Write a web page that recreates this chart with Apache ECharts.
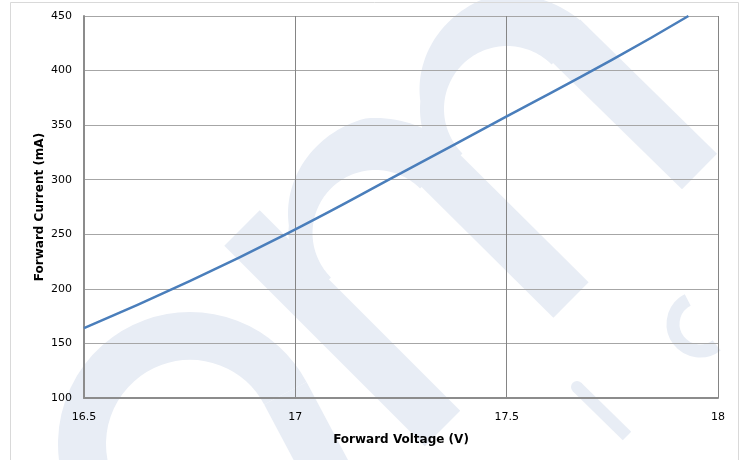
<!DOCTYPE html>
<html><head><meta charset="utf-8">
<script src="https://cdn.jsdelivr.net/npm/echarts/dist/echarts.min.js"></script>
<style>html,body{margin:0;padding:0;background:#fff}#c{width:746px;height:460px}</style>
</head><body><div id="c"></div>
<script>
// ---- data ----
const voltage = [16.5, 16.75, 17.0, 17.25, 17.5, 17.75, 17.93];
const current = [164, 207, 254.5, 306, 358, 410, 450];
const xTicks = [16.5, 17, 17.5, 18];
const yTicks = [100, 150, 200, 250, 300, 350, 400, 450];
const xTitle = 'Forward Voltage (V)';
const yTitle = 'Forward Current (mA)';

// ---- decorative watermark (ams logo) ----
const WM = '#e8edf5';
const D = Math.PI / 180;
function arcEl(cx, cy, r, a0, a1, w) {
  return { type: 'arc', z: -10, silent: true,
    shape: { cx: cx, cy: cy, r: r, startAngle: a0 * D, endAngle: a1 * D, clockwise: true },
    style: { stroke: WM, lineWidth: w, fill: 'none', lineCap: 'butt' } };
}
function lineEl(x1, y1, x2, y2, w) {
  return { type: 'line', z: -10, silent: true,
    shape: { x1: x1, y1: y1, x2: x2, y2: y2 },
    style: { stroke: WM, lineWidth: w, lineCap: 'butt' } };
}
function pt(cx, cy, r, a) { return [cx + r * Math.cos(a * D), cy + r * Math.sin(a * D)]; }
function archW(a) {
  if (a <= 185) return 24;
  if (a >= 265) return 52;
  return 24 + (a - 185) / 80 * 28;
}
function archPoly(cx, cy, rin) {
  const pts = [];
  for (let a = 135; a <= 315; a += 2.5) pts.push(pt(cx, cy, rin, a));
  for (let a = 315; a >= 135; a -= 2.5) pts.push(pt(cx, cy, rin + archW(a), a));
  return { type: 'polygon', z: -10, silent: true, shape: { points: pts }, style: { fill: WM } };
}
const wm = [];
// bottom-left ring with tangent leg
(function () {
  const cx = 190, cy = 444, r = 108, a1 = 332;
  wm.push(arcEl(cx, cy, r, 160, a1, 48));
  const p = pt(cx, cy, r, a1);
  const dx = -Math.sin(a1 * D), dy = Math.cos(a1 * D);
  wm.push(lineEl(p[0], p[1], p[0] + dx * 130, p[1] + dy * 130, 48));
})();
// "m" shape
(function () {
  const W = 50;
  wm.push(lineEl(242, 228, 442.5, 428.5, W));
  wm.push(archPoly(375.5, 233, 63));
  const e1 = pt(375.5, 233, 90, 315);
  wm.push(lineEl(e1[0] - 8, e1[1] - 8, 571, 300, W));
  wm.push(archPoly(507, 109, 63));
  const e2 = pt(507, 109, 90, 315);
  wm.push(lineEl(e2[0] - 8, e2[1] - 8, 699.5, 171.5, W));
})();
// small "c" and "i"
wm.push(arcEl(700, 324, 27, 52, 243, 13));
wm.push({ type: 'circle', z: -10, silent: true, shape: { cx: 577, cy: 387, r: 6 }, style: { fill: WM } });
wm.push(lineEl(577, 387, 627, 436, 12));
// outer chart border
wm.push({ type: 'rect', z: 5, silent: true, shape: { x: 10.5, y: 2.5, width: 728, height: 520 },
  style: { fill: 'none', stroke: '#d9d9d9', lineWidth: 1 } });

const FONT = '"DejaVu Sans", sans-serif';
const chart = echarts.init(document.getElementById('c'), null, { renderer: 'canvas' });
chart.setOption({
  animation: false,
  backgroundColor: '#ffffff',
  graphic: { elements: wm },
  grid: { left: 84, right: 28, top: 16, bottom: 62, containLabel: false },
  xAxis: {
    type: 'value',
    min: xTicks[0], max: xTicks[xTicks.length - 1], interval: xTicks[1] - xTicks[0],
    name: xTitle, nameLocation: 'middle', nameGap: 36, nameMoveOverlap: false,
    nameTextStyle: { fontFamily: FONT, fontSize: 12, fontWeight: 'bold', color: '#000' },
    axisLine: { show: true, lineStyle: { color: '#8c8c8c', width: 2 } },
    axisTick: { show: false },
    axisLabel: { fontFamily: FONT, fontSize: 11, color: '#000', margin: 14 },
    splitLine: { show: true, lineStyle: { color: '#858585', width: 1 } }
  },
  yAxis: {
    type: 'value',
    min: yTicks[0], max: yTicks[yTicks.length - 1], interval: yTicks[1] - yTicks[0],
    name: yTitle, nameLocation: 'middle', nameGap: 38, nameMoveOverlap: false,
    nameTextStyle: { fontFamily: FONT, fontSize: 12, fontWeight: 'bold', color: '#000' },
    axisLine: { show: true, lineStyle: { color: '#8c8c8c', width: 2 } },
    axisTick: { show: false },
    axisLabel: { fontFamily: FONT, fontSize: 11, color: '#000', margin: 12 },
    splitLine: { show: true, lineStyle: { color: '#a6a6a6', width: 1 } }
  },
  series: [{
    type: 'line',
    data: voltage.map((v, i) => [v, current[i]]),
    showSymbol: false,
    smooth: true,
    lineStyle: { color: '#4a7ebb', width: 2.5 },
    z: 3
  }]
});
</script></body></html>
